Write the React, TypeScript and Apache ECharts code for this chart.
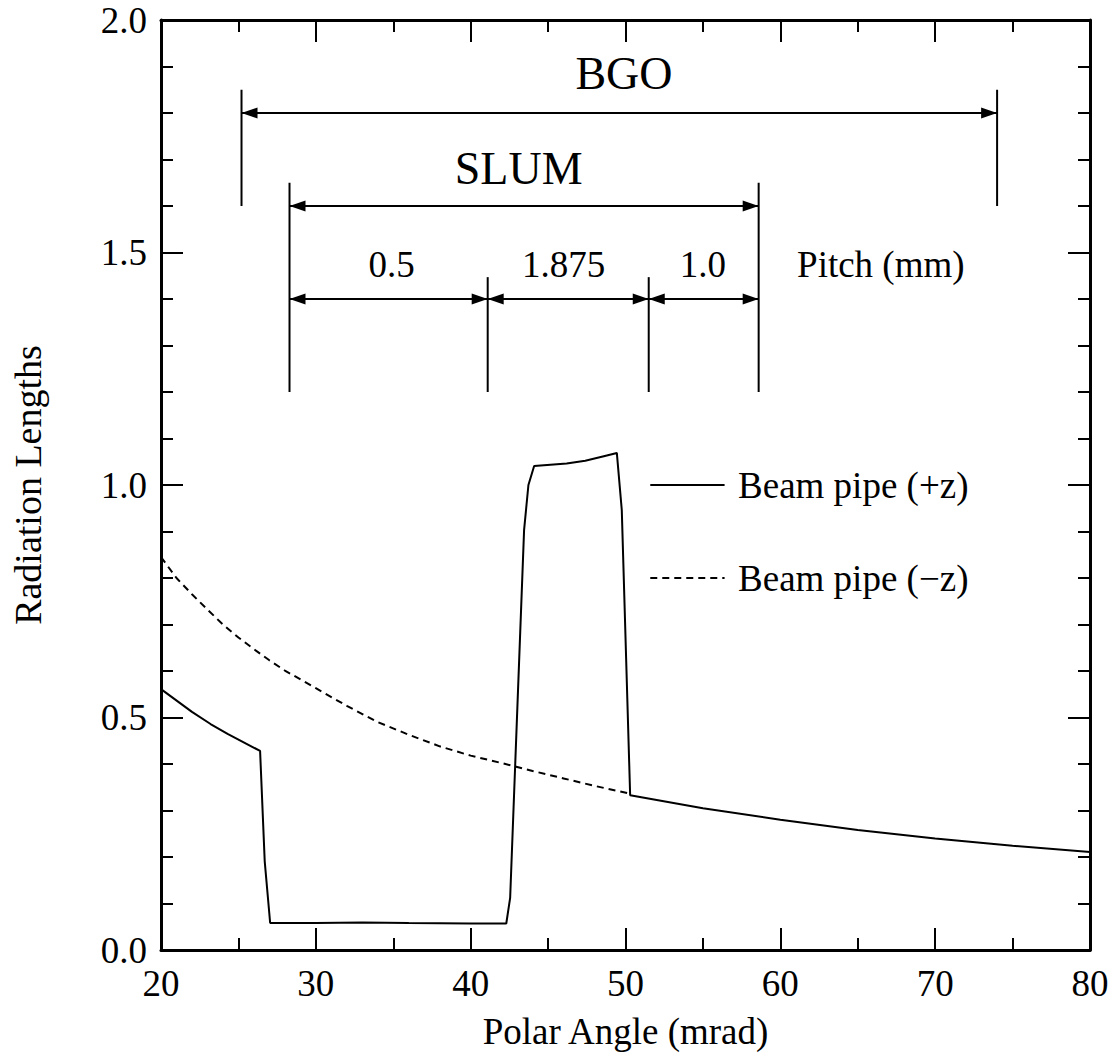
import React, { useEffect, useRef } from "react";
import * as echarts from "echarts";

// ---- data ----
const plusZ: number[][] = [
  [20, 0.561], [22, 0.512], [23.2, 0.486], [24.3, 0.465], [26.4, 0.428],
  [26.7, 0.19], [27.05, 0.058], [30, 0.058], [33, 0.059], [36, 0.058], [40, 0.057],
  [42.3, 0.057], [42.55, 0.112], [43.45, 0.903], [43.73, 1.0], [44.1, 1.041],
  [46.2, 1.046], [47.4, 1.052], [48.6, 1.062], [49.44, 1.069], [49.76, 0.946],
  [50.3, 0.333], [55, 0.305], [60, 0.28], [65, 0.258], [70, 0.24], [75, 0.224], [80, 0.211],
];
const minusZ: number[][] = [
  [20, 0.845], [21, 0.8], [22, 0.765], [23, 0.732], [24, 0.7], [25, 0.672],
  [26, 0.647], [27, 0.623], [28, 0.601], [30, 0.563], [32, 0.525], [34, 0.49],
  [36, 0.463], [38, 0.438], [40, 0.418], [42, 0.402], [44, 0.385], [46, 0.369],
  [48, 0.353], [50.3, 0.336],
];
const bgoSpan = [25.2, 74.0];
const slumSpan = [28.3, 58.6];
const pitchEdges = [28.3, 41.1, 51.5, 58.6];
const pitchLabels = ["0.5", "1.875", "1.0"];
const legendNames = ["Beam pipe (+z)", "Beam pipe (\u2212z)"];

const FONT = "Liberation Serif";

export default function App() {
  const ref = useRef<HTMLDivElement>(null);
  useEffect(() => {
    if (!ref.current) return;
    const chart = echarts.init(ref.current, undefined, { renderer: "svg" });

    const arrows = [
      [bgoSpan[0], bgoSpan[1], 1.8],
      [slumSpan[0], slumSpan[1], 1.6],
      [pitchEdges[0], pitchEdges[1], 1.4],
      [pitchEdges[1], pitchEdges[2], 1.4],
      [pitchEdges[2], pitchEdges[3], 1.4],
    ];
    const bars = [
      [bgoSpan[0], 1.6, 1.85],
      [bgoSpan[1], 1.6, 1.85],
      [pitchEdges[0], 1.2, 1.65],
      [pitchEdges[1], 1.2, 1.447],
      [pitchEdges[2], 1.2, 1.447],
      [pitchEdges[3], 1.2, 1.65],
    ];
    const texts: { v: number[]; t: string; size: number; align: string }[] = [
      { v: [49.9, 1.884], t: "BGO", size: 46, align: "center" },
      { v: [43.1, 1.681], t: "SLUM", size: 46, align: "center" },
      { v: [34.9, 1.475], t: pitchLabels[0], size: 37, align: "center" },
      { v: [46.0, 1.475], t: pitchLabels[1], size: 37, align: "center" },
      { v: [55.0, 1.475], t: pitchLabels[2], size: 37, align: "center" },
      { v: [61.08, 1.475], t: "Pitch (mm)", size: 37, align: "left" },
      { v: [57.27, 1.0], t: legendNames[0], size: 37, align: "left" },
      { v: [57.27, 0.8], t: legendNames[1], size: 37, align: "left" },
    ];
    const legendKeys = [
      [51.6, 56.4, 1.0, 0],
      [51.6, 56.4, 0.8, 1],
    ];

    const axisCommon = {
      type: "value",
      axisLine: { show: true, onZero: false, lineStyle: { color: "#000", width: 3 } },
      axisTick: { show: true, inside: true, length: 22, lineStyle: { color: "#000", width: 2 } },
      splitLine: { show: false },
    };
    const labelStyle = { fontFamily: FONT, fontSize: 37, color: "#000" };

    const option: any = {
      animation: false,
      backgroundColor: "#fff",
      textStyle: { fontFamily: FONT },
      grid: { left: 161, right: 26, top: 20, bottom: 105 },
      xAxis: [
        {
          ...axisCommon, min: 20, max: 80, interval: 10, position: "bottom",
          minorTick: { show: true, splitNumber: 2, length: 12, lineStyle: { color: "#000", width: 2 } },
          axisLabel: { ...labelStyle, margin: 15 },
          name: "Polar Angle (mrad)", nameLocation: "middle", nameGap: 63,
          nameTextStyle: { ...labelStyle },
        },
        {
          ...axisCommon, min: 20, max: 80, interval: 10, position: "top",
          minorTick: { show: true, splitNumber: 2, length: 12, lineStyle: { color: "#000", width: 2 } },
          axisLabel: { show: false },
        },
      ],
      yAxis: [
        {
          ...axisCommon, min: 0, max: 2, interval: 0.5, position: "left",
          minorTick: { show: true, splitNumber: 5, length: 12, lineStyle: { color: "#000", width: 2 } },
          axisLabel: { ...labelStyle, margin: 14, formatter: (v: number) => v.toFixed(1) },
          name: "Radiation Lengths", nameLocation: "middle", nameGap: 114,
          nameTextStyle: { ...labelStyle, fontSize: 38 },
        },
        {
          ...axisCommon, min: 0, max: 2, interval: 0.5, position: "right",
          minorTick: { show: true, splitNumber: 5, length: 12, lineStyle: { color: "#000", width: 2 } },
          axisLabel: { show: false },
        },
      ],
      series: [
        {
          type: "line", data: minusZ, symbol: "none", silent: true,
          lineStyle: { color: "#000", width: 2, type: [7, 5] },
        },
        {
          type: "line", data: plusZ, symbol: "none", silent: true,
          lineStyle: { color: "#000", width: 2 },
        },
        {
          type: "custom", silent: true, data: arrows, encode: { x: [0, 1], y: 2 },
          renderItem: (_p: any, api: any) => {
            const a = api.coord([api.value(0), api.value(2)]);
            const b = api.coord([api.value(1), api.value(2)]);
            const L = 16, H = 5.5;
            return {
              type: "group",
              children: [
                { type: "line", shape: { x1: a[0], y1: a[1], x2: b[0], y2: b[1] }, style: { stroke: "#000", lineWidth: 2 } },
                { type: "polygon", shape: { points: [[a[0], a[1]], [a[0] + L, a[1] - H], [a[0] + L, a[1] + H]] }, style: { fill: "#000" } },
                { type: "polygon", shape: { points: [[b[0], b[1]], [b[0] - L, b[1] - H], [b[0] - L, b[1] + H]] }, style: { fill: "#000" } },
              ],
            };
          },
        },
        {
          type: "custom", silent: true, data: bars, encode: { x: 0, y: [1, 2] },
          renderItem: (_p: any, api: any) => {
            const a = api.coord([api.value(0), api.value(1)]);
            const b = api.coord([api.value(0), api.value(2)]);
            return { type: "line", shape: { x1: a[0], y1: a[1], x2: b[0], y2: b[1] }, style: { stroke: "#000", lineWidth: 2 } };
          },
        },
        {
          type: "custom", silent: true, data: legendKeys, encode: { x: [0, 1], y: 2 },
          renderItem: (_p: any, api: any) => {
            const a = api.coord([api.value(0), api.value(2)]);
            const b = api.coord([api.value(1), api.value(2)]);
            const dashed = api.value(3) === 1;
            return {
              type: "line", shape: { x1: a[0], y1: a[1], x2: b[0], y2: b[1] },
              style: { stroke: "#000", lineWidth: 2, lineDash: dashed ? [7, 5] : null },
            };
          },
        },
        {
          type: "custom", silent: true, data: texts.map((t) => t.v), encode: { x: 0, y: 1 },
          renderItem: (p: any, api: any) => {
            const t = texts[p.dataIndex];
            const c = api.coord([api.value(0), api.value(1)]);
            return {
              type: "text", x: c[0], y: c[1],
              style: {
                text: t.t, fontFamily: FONT, fontSize: t.size, fill: "#000",
                align: t.align, verticalAlign: "middle",
                textAlign: t.align, textVerticalAlign: "middle",
              },
            };
          },
        },
      ],
    };
    chart.setOption(option);
    return () => chart.dispose();
  }, []);
  return (
    <div
      ref={ref}
      style={{ position: "absolute", left: 0, top: 0, width: 1116, height: 1055, background: "#fff" }}
    />
  );
}
